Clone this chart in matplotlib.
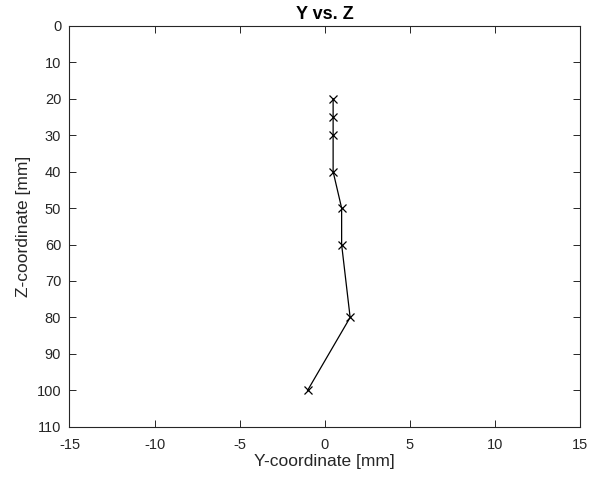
import matplotlib
matplotlib.use("Agg")
import matplotlib.pyplot as plt

y_coord = [0.5, 0.5, 0.5, 0.5, 1.0, 1.0, 1.5, -1.0]
z_coord = [20, 25, 30, 40, 50, 60, 80, 100]
x_ticks = [-15, -10, -5, 0, 5, 10, 15]
z_ticks = [0, 10, 20, 30, 40, 50, 60, 70, 80, 90, 100, 110]

plt.rcParams['font.family'] = ['Liberation Sans', 'DejaVu Sans']
plt.rcParams['axes.unicode_minus'] = False

fig = plt.figure(figsize=(5.94, 4.79), dpi=100)
ax = fig.add_axes([0.117, 0.109, 0.859, 0.837])
ax.plot(y_coord, z_coord, color='black', linewidth=0.9, marker='x',
        markersize=6, markeredgewidth=0.9)
ax.set_xlim(-15, 15)
ax.set_ylim(110, 0)
ax.set_xticks(x_ticks)
ax.set_yticks(z_ticks)
ax.tick_params(direction='in', top=True, right=True, labelsize=10.5,
               length=5, width=0.7, colors='#262626')
ax.tick_params(axis='x', pad=8)
ax.tick_params(axis='y', pad=6)
for s in ax.spines.values():
    s.set_linewidth(0.8)
    s.set_color('#262626')
ax.set_xlabel('Y-coordinate [mm]', fontsize=12.5, color='#262626', labelpad=1.5)
ax.set_ylabel('Z-coordinate [mm]', fontsize=12.5, color='#262626', labelpad=4)
ax.set_title('Y vs. Z', fontsize=13, fontweight='bold', pad=5)
fig.savefig('out.png', dpi=100)
